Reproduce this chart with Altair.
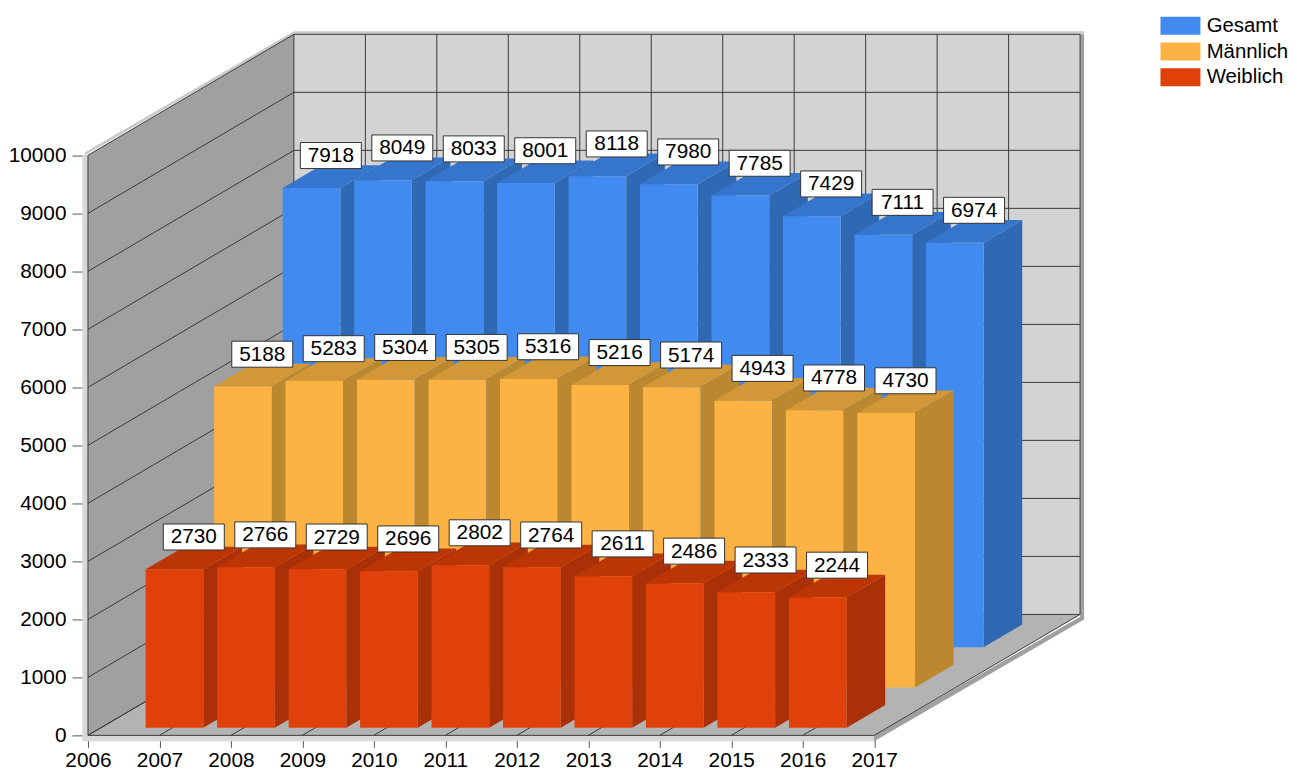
import altair as alt
import pandas as pd

years = list(range(2007, 2017))
tick_years = list(range(2006, 2018))
y_ticks = list(range(0, 11000, 1000))
series = ["Gesamt", "Männlich", "Weiblich"]
gesamt = [7918, 8049, 8033, 8001, 8118, 7980, 7785, 7429, 7111, 6974]
maennlich = [5188, 5283, 5304, 5305, 5316, 5216, 5174, 4943, 4778, 4730]
weiblich = [2730, 2766, 2729, 2696, 2802, 2764, 2611, 2486, 2333, 2244]
values = {"Gesamt": gesamt, "Männlich": maennlich, "Weiblich": weiblich}
front_colors = ["#418AF0", "#FDB343", "#E0400A"]
top_colors = {"Gesamt": "#3675CC", "Männlich": "#D29737", "Weiblich": "#BC3505"}
side_colors = {"Gesamt": "#2F69B4", "Männlich": "#BB882F", "Weiblich": "#A93007"}
row_depth = {"Gesamt": 0.729, "Männlich": 0.396, "Weiblich": 0.0636}

PX_X = 71.5      # pixels per year
PX_Y = 0.05803   # pixels per value unit
DEPTH_X = 206 / PX_X
DEPTH_Y = 121 / PX_Y
BAR_START = 0.624
BAR_W = 0.807
BAR_D = 0.1875
WIDTH = 1002
HEIGHT = 728
FONT = "Liberation Sans"
FS = 20.8

x_scale = alt.Scale(domain=[2006, 2006 + WIDTH / PX_X], nice=False, zero=False)
y_scale = alt.Scale(domain=[0, HEIGHT / PX_Y], nice=False, zero=False)
x_axis = alt.Axis(
    values=tick_years, format="d", domain=False, grid=False, tickColor="#555555", tickSize=12,
    labelFont=FONT, labelFontSize=FS, labelColor="#000000", labelPadding=3.5,
    labelOverlap=False, labelBound=False, labelFlush=False)
y_axis = alt.Axis(
    values=y_ticks, format="d", domain=False, grid=False, tickColor="#555555", tickSize=16,
    labelFont=FONT, labelFontSize=FS, labelColor="#000000", labelPadding=6,
    labelOverlap=False, labelBound=False, labelFlush=False)
X = lambda f="x": alt.X(f"{f}:Q", scale=x_scale, axis=x_axis, title=None)
Y = lambda f="y": alt.Y(f"{f}:Q", scale=y_scale, axis=y_axis, title=None)


def px(year, z):
    return year + z * DEPTH_X


def py(value, z):
    return value + z * DEPTH_Y


def area_v(rows, color):
    return alt.Chart(pd.DataFrame(rows)).mark_area(color=color, opacity=1).encode(
        x=X(), y=Y(), y2=alt.Y2("y2:Q"), detail="id:N")


def area_h(rows, color):
    return alt.Chart(pd.DataFrame(rows)).mark_area(color=color, opacity=1, orient="horizontal").encode(
        y=Y(), x=X(), x2=alt.X2("x2:Q"), detail="id:N")


def rect(rows, color):
    return alt.Chart(pd.DataFrame(rows)).mark_rect(color=color).encode(
        x=X(), x2=alt.X2("x2:Q"), y=Y(), y2=alt.Y2("y2:Q"))


dpx = 1 / PX_X
dpy = 1 / PX_Y
layers = []

# thickness bands of the box
layers.append(rect([dict(x=2006 - 5.6 * dpx, x2=2006, y=-6 * dpy, y2=10000)], "#D8D8D8"))
layers.append(rect([dict(x=2006, x2=2017, y=-6 * dpy, y2=0)], "#D8D8D8"))
layers.append(area_v([
    dict(id=0, x=px(2006, 0) - 3 * dpx, y=10000, y2=10000 + 3 * dpy),
    dict(id=0, x=px(2006, 1), y=py(10000, 1), y2=py(10000, 1) + 3 * dpy)], "#C8C8C8"))
layers.append(rect([dict(x=px(2006, 1), x2=px(2017, 1) + 4 * dpx, y=py(10000, 1), y2=py(10000, 1) + 3 * dpy)], "#C8C8C8"))
layers.append(rect([dict(x=px(2017, 1), x2=px(2017, 1) + 4 * dpx, y=py(0, 1) - 5 * dpy, y2=py(10000, 1))], "#A0A0A0"))
layers.append(area_v([
    dict(id=0, x=2017, y=-6 * dpy, y2=0),
    dict(id=0, x=px(2017, 1) + 4 * dpx, y=py(0, 1) - 5 * dpy, y2=py(0, 1))], "#A0A0A0"))

# walls and floor
layers.append(rect([dict(x=px(2006, 1), x2=px(2017, 1), y=py(0, 1), y2=py(10000, 1))], "#D3D3D3"))
layers.append(area_v([
    dict(id=0, x=2006, y=0, y2=10000),
    dict(id=0, x=px(2006, 1), y=py(0, 1), y2=py(10000, 1))], "#A0A0A0"))
layers.append(area_h([
    dict(id=0, y=0, x=2006, x2=2017),
    dict(id=0, y=py(0, 1), x=px(2006, 1), x2=px(2017, 1))], "#B3B3B3"))

# grid lines
grid = []
for v in y_ticks:
    grid.append(dict(x=2006, x2=px(2006, 1), y=v, y2=py(v, 1)))
    grid.append(dict(x=px(2006, 1), x2=px(2017, 1), y=py(v, 1), y2=py(v, 1)))
for yr in tick_years:
    grid.append(dict(x=px(yr, 1), x2=px(yr, 1), y=py(0, 1), y2=py(10000, 1)))
    grid.append(dict(x=yr, x2=px(yr, 1), y=0, y2=py(0, 1)))
grid.append(dict(x=2006, x2=2006, y=0, y2=10000))
grid.append(dict(x=2006, x2=2017, y=0, y2=0))
layers.append(alt.Chart(pd.DataFrame(grid)).mark_rule(color="#3A3A3A", strokeWidth=1).encode(
    x=X(), x2=alt.X2("x2:Q"), y=Y(), y2=alt.Y2("y2:Q")))

# bars, back row first
label_rows = []
color_scale = alt.Scale(domain=series, range=front_colors)
for s in series:
    z0 = row_depth[s]
    side, top, front = [], [], []
    for i, (yr, v) in enumerate(zip(years, values[s])):
        left = 2006 + i + BAR_START
        right = left + BAR_W
        front.append(dict(x=px(left, z0), x2=px(right, z0), y=py(0, z0), y2=py(v, z0), series=s))
        for z in (z0, z0 + BAR_D):
            side.append(dict(id=i, x=px(right, z), y=py(0, z), y2=py(v, z)))
            top.append(dict(id=i, y=py(v, z), x=px(left, z), x2=px(right, z)))
        zc = z0 + BAR_D / 2
        label_rows.append(dict(x=px(left + BAR_W / 2, zc), y=py(v, zc), label=str(v)))
    layers.append(area_v(side, side_colors[s]))
    layers.append(area_h(top, top_colors[s]))
    layers.append(alt.Chart(pd.DataFrame(front)).mark_rect().encode(
        x=X(), x2=alt.X2("x2:Q"), y=Y(), y2=alt.Y2("y2:Q"),
        color=alt.Color("series:N", scale=color_scale, legend=alt.Legend(
            title=None, orient="none", legendX=1082.7, legendY=8,
            symbolType="M-2.22,-1L2.22,-1L2.22,1L-2.22,1Z", symbolSize=324, symbolStrokeWidth=0,
            symbolOpacity=1, labelFont=FONT, labelFontSize=20.4, labelColor="#000000",
            labelOffset=16, rowPadding=4.7, labelLimit=200))))

labels = pd.DataFrame(label_rows)
layers.append(alt.Chart(labels).mark_rect(width=61, height=26, yOffset=-21, fill="#FFFFFF", stroke="#333333", strokeWidth=1).encode(
    x=X(), y=Y()))
layers.append(alt.Chart(labels).mark_text(yOffset=-20.5, font=FONT, fontSize=FS, color="#000000", baseline="middle", align="center").encode(
    x=X(), y=Y(), text="label:N"))

chart = alt.layer(*layers).properties(
    width=WIDTH, height=HEIGHT, padding={"left": 0, "top": -0.5, "right": -0.5, "bottom": 0}
).configure_view(stroke=None)

chart.save("out.html", embed_options={"renderer": "svg", "actions": False})
